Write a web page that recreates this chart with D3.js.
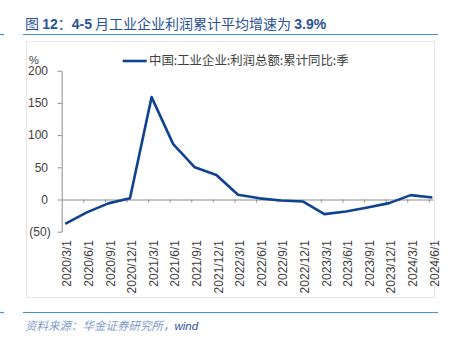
<!DOCTYPE html>
<html><head><meta charset="utf-8">
<script src="https://cdn.jsdelivr.net/npm/d3@7/dist/d3.min.js"></script>
<style>body{margin:0;background:#fff}svg{display:block}</style>
</head><body>
<svg id="c" width="451" height="343"></svg>
<script>
const categories = ["2020/3/1","2020/6/1","2020/9/1","2020/12/1","2021/3/1","2021/6/1","2021/9/1","2021/12/1","2022/3/1","2022/6/1","2022/9/1","2022/12/1","2023/3/1","2023/6/1","2023/9/1","2023/12/1","2024/3/1","2024/6/1"];
const profitYoY = [-37.7,-20,-6,2,159,86,50,38,7.3,1.8,-1.5,-3,-22.7,-18.6,-12.4,-5.6,6.8,3.1];
const yTicks = [-50,0,50,100,150,200];
const seriesName = "中国:工业企业:利润总额:累计同比:季";
const titleParts = [["图 ",false],["12",true],["：",false],["4-5",true],[" 月工业企业利润累计平均增速为 ",false],["3.9%",true]];

const svg = d3.select("#c");
const lineColor = "#0F4290", ruleColor = "#3F93DC", axisColor = "#8c8c8c", textColor = "#404040";

// title
const t = svg.append("text").attr("x",25).attr("y",29).attr("fill","#2A5296")
  .attr("font-family","'Noto Sans CJK SC','Liberation Sans',sans-serif").attr("font-size",14);
titleParts.forEach(([s,b]) => t.append("tspan").text(s)
  .attr("font-family", b ? "'Liberation Sans',Arial,sans-serif" : null)
  .attr("font-weight", b ? "bold" : null));
svg.append("line").attr("x1",23).attr("x2",438).attr("y1",34.5).attr("y2",34.5).attr("stroke",ruleColor).attr("stroke-width",1.2);
svg.append("line").attr("x1",0).attr("x2",4).attr("y1",34.5).attr("y2",34.5).attr("stroke",ruleColor).attr("stroke-width",1.2);

// chart area frame
svg.append("rect").attr("x",26.5).attr("y",41.5).attr("width",408).attr("height",256)
  .attr("fill","none").attr("stroke","#e6e6e6").attr("stroke-width",1);

const x = d3.scaleLinear().domain([-0.162, 17.03]).range([61.7, 433]);
const y = d3.scaleLinear().domain([-50, 200]).range([231.7, 70.7]);

// y axis
const ya = svg.append("g").attr("transform","translate(61.7,0)")
  .call(d3.axisLeft(y).tickValues(yTicks).tickSize(4).tickSizeOuter(0)
    .tickFormat(v => v < 0 ? "(" + Math.abs(v) + ")" : String(v)));
ya.select(".domain").attr("stroke",axisColor);
ya.selectAll(".tick line").attr("stroke",axisColor);
ya.selectAll(".tick text").attr("fill",textColor).attr("font-size",12)
  .attr("font-family","'Liberation Sans',Arial,sans-serif")
  .attr("x", d => d < 0 ? -11 : -13.7);
svg.append("text").attr("x",29).attr("y",63.5).text("%").attr("fill",textColor)
  .attr("font-size",11).attr("font-family","'Liberation Sans',Arial,sans-serif");

// x axis (at zero)
const xTickVals = d3.range(1, 18).map(k => k - 0.162);
const xa = svg.append("g").attr("transform",`translate(0,${y(0)})`)
  .call(d3.axisBottom(x).tickValues(xTickVals).tickSize(3).tickSizeOuter(0).tickFormat(""));
xa.select(".domain").attr("stroke",axisColor);
xa.selectAll(".tick line").attr("stroke",axisColor);

// category labels
svg.append("g").selectAll("text").data(categories).join("text")
  .attr("transform",(d,i) => `translate(${x(i)+2},240) rotate(-90)`)
  .attr("text-anchor","end").attr("dy","0.35em")
  .attr("fill",textColor).attr("font-size",12)
  .attr("font-family","'Liberation Sans',Arial,sans-serif").text(d => d);

// line
svg.append("path").datum(profitYoY)
  .attr("d", d3.line().x((d,i) => x(i)).y(d => y(d)))
  .attr("fill","none").attr("stroke",lineColor).attr("stroke-width",2.6).attr("stroke-linejoin","round");

// legend
svg.append("line").attr("x1",122.7).attr("x2",146.7).attr("y1",61).attr("y2",61)
  .attr("stroke",lineColor).attr("stroke-width",2.6);
svg.append("text").attr("x",149).attr("y",61).attr("dy","0.35em").text(seriesName)
  .attr("fill",textColor).attr("font-size",12.4)
  .attr("font-family","'Noto Sans CJK SC',sans-serif");

// footer
svg.append("line").attr("x1",23).attr("x2",438).attr("y1",312.5).attr("y2",312.5).attr("stroke",ruleColor).attr("stroke-width",1.2);
svg.append("line").attr("x1",0).attr("x2",4).attr("y1",312.5).attr("y2",312.5).attr("stroke",ruleColor).attr("stroke-width",1.2);
const f = svg.append("text").attr("x",25).attr("y",330).attr("font-size",11.5).attr("font-style","italic")
  .attr("font-family","'Noto Sans CJK SC',sans-serif");
f.append("tspan").text("资料来源：华金证券研究所，").attr("fill","#7C9AC9");
f.append("tspan").text("wind").attr("fill","#2D4E9E").attr("font-family","'Liberation Sans',Arial,sans-serif");
</script>
</body></html>
